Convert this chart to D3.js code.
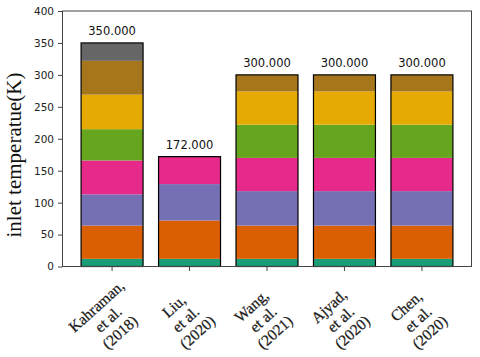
<!DOCTYPE html>
<html><head><meta charset="utf-8">
<script src="https://cdn.jsdelivr.net/npm/d3@7"></script>
<style>body{margin:0;background:#fff}svg{display:block}</style>
</head><body><svg id="c" width="480" height="357"></svg>
<script>
const categories = ["Kahraman,\net al.\n(2018)", "Liu,\net al.\n(2020)", "Wang,\net al.\n(2021)", "Ajyad,\net al.\n(2020)", "Chen,\net al.\n(2020)"];
const s1 = [12, 12, 12, 12, 12];
const s2 = [52, 60, 52, 52, 52];
const s3 = [49, 57, 54, 54, 54];
const s4 = [53, 43, 52, 52, 52];
const s5 = [49, 0, 52, 52, 52];
const s6 = [54, 0, 52, 52, 52];
const s7 = [53, 0, 26, 26, 26];
const s8 = [28, 0, 0, 0, 0];
const series = [s1, s2, s3, s4, s5, s6, s7, s8];
const colors = ["#1b9e77", "#d95f02", "#7570b3", "#e7298a", "#66a61e", "#e6ab02", "#a6761d", "#666666"];
const yTicks = [0, 50, 100, 150, 200, 250, 300, 350, 400];
const yTitle = "inlet temperatue(K)";

const svg = d3.select("#c");
const L = 62.5, R = 471.5, T = 11, B = 266.5;
const x = d3.scaleBand().domain(categories).range([L, R]).paddingInner(0.2).paddingOuter(0.24);
const y = d3.scaleLinear().domain([0, 400]).range([B, T]);

const keys = series.map((_, i) => "s" + i);
const rows = categories.map((c, j) => { const o = {cat: c}; series.forEach((s, i) => o["s" + i] = s[j]); return o; });
const stack = d3.stack().keys(keys)(rows);

stack.forEach((layer, i) => {
  svg.append("g").selectAll("rect").data(layer.filter(d => d[1] > d[0])).join("rect")
    .attr("x", d => x(d.data.cat)).attr("width", x.bandwidth())
    .attr("y", d => y(d[1])).attr("height", d => y(d[0]) - y(d[1]))
    .attr("fill", colors[i]);
});
const totals = categories.map((c, j) => ({cat: c, v: d3.sum(series, s => s[j])}));
svg.append("g").selectAll("rect").data(totals).join("rect")
  .attr("x", d => x(d.cat)).attr("width", x.bandwidth())
  .attr("y", d => y(d.v)).attr("height", d => y(0) - y(d.v))
  .attr("fill", "none").attr("stroke", "#000").attr("stroke-width", 1.2);
svg.append("g").selectAll("text").data(totals).join("text")
  .attr("x", d => x(d.cat) + x.bandwidth() / 2).attr("y", d => y(d.v) - 7.5)
  .attr("text-anchor", "middle").attr("font-family", "DejaVu Sans").attr("font-size", 11.5)
  .attr("fill", "#111").text(d => d3.format(".3f")(d.v));

// frame
svg.append("rect").attr("x", L).attr("y", T).attr("width", R - L).attr("height", B - T)
  .attr("fill", "none").attr("stroke", "#444").attr("stroke-width", 1);

// y axis
const ya = svg.append("g").attr("transform", `translate(${L},0)`)
  .call(d3.axisLeft(y).tickValues(yTicks).tickSize(4.5).tickPadding(4));
ya.select(".domain").remove();
ya.selectAll("line").attr("stroke", "#444");
ya.selectAll("text").attr("font-family", "DejaVu Sans").attr("font-size", 10.5).attr("fill", "#222");

// x axis
const xa = svg.append("g").attr("transform", `translate(0,${B})`)
  .call(d3.axisBottom(x).tickSize(4.5).tickFormat(""));
xa.select(".domain").remove();
xa.selectAll("line").attr("stroke", "#444");

const xl = svg.append("g").selectAll("g").data(categories).join("g")
  .attr("transform", d => `translate(${x(d) + x.bandwidth() / 2 - 4},319) rotate(-42)`);
xl.each(function (d) {
  const lines = d.split("\n");
  const t = d3.select(this).append("text").attr("text-anchor", "middle")
    .attr("font-family", "Liberation Serif").attr("font-size", 15.5).attr("fill", "#1a1a1a")
    .attr("stroke", "#1a1a1a").attr("stroke-width", 0.25);
  lines.forEach((ln, i) => t.append("tspan").attr("x", 0).attr("y", (i - 1) * 17.5).attr("dominant-baseline", "central").text(ln));
});

svg.append("text").attr("transform", "translate(14,155) rotate(-90)")
  .attr("text-anchor", "middle").attr("dominant-baseline", "central")
  .attr("font-family", "Liberation Serif").attr("font-size", 21).attr("fill", "#111").text(yTitle);
</script></body></html>
